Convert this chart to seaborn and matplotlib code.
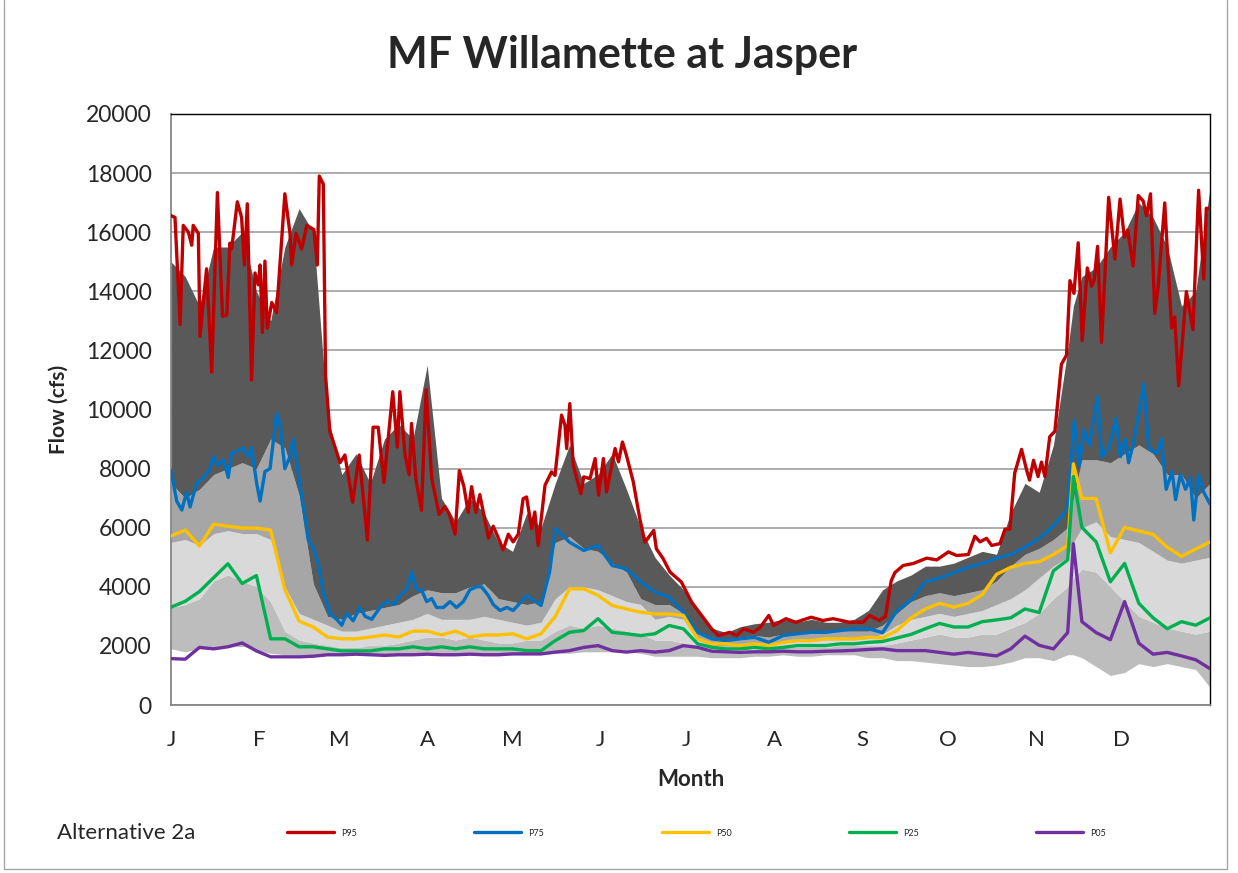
import numpy as np
import pandas as pd
import matplotlib
matplotlib.use('Agg')
import matplotlib.pyplot as plt
import seaborn as sns

sns.set_style('white')
plt.rcParams['font.family'] = ['Lato', 'DejaVu Sans']

# day of year of each sample (shared by most series)
days = list(range(0, 316, 5)) + [317] + list(range(320, 366, 5))

# Alternative 2a - P95 (more vertices, very spiky)
p95_day = [0, 1.4, 3.2, 4.3, 6.1, 7.3, 7.8, 9.6, 10.2, 12.5, 14.3, 16.3, 18.1, 19.6, 20.7,
           21.3, 23.3, 24.8, 25.8, 26.8, 28.3, 29.5, 30.7, 31.3, 32.1, 33, 33.8, 35.4, 37.1,
           40, 41.8, 42.4, 43.9, 45.9, 47.7, 50.2, 51.4, 52.1, 53.5, 54.3, 55.8, 57.6, 59.4,
           61.1, 63.8, 66.1, 69, 71, 72.8, 74.8, 77.9, 79.5, 80.4, 82.2, 83.7, 84.5, 86, 88,
           89.6, 91.6, 94.2, 96.2, 97.8, 99.8, 101.3, 102.9, 104.4, 105.6, 107.1, 108.5,
           111.5, 113.2, 115, 116.7, 118.5, 120.2, 122, 123.7, 124.9, 126.7, 127.8, 129,
           131.4, 133.7, 134.9, 137.2, 138.4, 139, 140.1, 141.3, 144, 145, 147.2, 149, 150.2,
           151.9, 153, 156, 157.2, 158.6, 160, 162.4, 164.7, 166.5, 169.6, 170.5, 172.9,
           175.3, 179.3, 182.9, 186.4, 189.9, 192.3, 196.3, 198.7, 201.2, 204.7, 207, 210,
           211.7, 216, 219.5, 224.9, 229, 232.6, 238.4, 243.1, 245.4, 248.9, 251, 253, 254.3,
           257.2, 260.8, 265.5, 269, 273.1, 276, 280.1, 282.4, 284.2, 286.5, 288.3, 291.2,
           293, 294.7, 296.4, 298.8, 300.5, 301.6, 303, 304.6, 305.8, 307, 308.7, 310.5,
           312.8, 314.6, 315.8, 317.2, 318.7, 320.1, 321.9, 323.4, 324.3, 325.5, 326.9,
           329.4, 331.6, 333.4, 334.9, 336.1, 338, 339.8, 341.5, 342.7, 344.1, 345.6, 346.8,
           349.1, 351.5, 352.6, 354, 356.7, 359, 361, 362.8, 363.7, 365]
p95_flow = [16560, 16500, 12880, 16230, 16000, 15560, 16230, 15960, 12480, 14760, 11270, 17340,
            13150, 13200, 15630, 15430, 17030, 16500, 14890, 16960, 11000, 14620, 14220, 14890,
            12610, 15020, 12750, 13620, 13280, 17300, 15960, 14890, 15960, 15430, 16230, 16090,
            14890, 17900, 17630, 11140, 9270, 8730, 8200, 8460, 6860, 8460, 5580, 9400, 9400,
            7530, 10600, 8730, 10600, 8460, 7790, 9530, 7660, 6590, 10670, 7660, 6450, 6720,
            6450, 5780, 7930, 7390, 6520, 7390, 6520, 7120, 5650, 6050, 5650, 5250, 5780, 5520,
            5780, 6980, 7040, 5970, 6530, 5400, 7440, 7890, 7770, 9810, 9470, 8680, 10200, 8110,
            7150, 7720, 7660, 8340, 7100, 8340, 7210, 8680, 8230, 8900, 8450, 7550, 6300, 5510,
            5910, 5290, 4950, 4500, 4160, 3480, 3030, 2580, 2350, 2460, 2350, 2580, 2460, 2630,
            3030, 2690, 2920, 2800, 2970, 2860, 2920, 2800, 2800, 3030, 2860, 3000, 4200, 4480,
            4720, 4790, 4970, 4910, 5180, 5060, 5090, 5710, 5520, 5640, 5400, 5460, 5950, 5950,
            7850, 8650, 7980, 7610, 8280, 7730, 8220, 7730, 9080, 9260, 11530, 11840, 14360,
            13930, 15640, 12330, 14790, 14170, 14360, 15520, 12270, 17180, 15090, 17120, 15830,
            16070, 14850, 17240, 17060, 16560, 17300, 13250, 14170, 16990, 12760, 13130, 10800,
            13990, 12700, 17420, 14420, 16810, 16800]

# Alternative 2a - P75 (own vertices, jagged in winter)
p75_day = [0, 2, 3.8, 5.5, 6.7, 9, 11.4, 13.7, 14.9, 16.6, 18.4, 20.1, 21.3, 23.3, 25.4, 27.2,
           28.3, 30.1, 31.3, 33, 34.8, 37.1, 38.3, 40, 41.8, 42.9, 44.7, 46.5, 48.2, 50, 51.7,
           53.5, 55.8, 58.2, 60, 61.7, 64, 66.4, 68.2, 70.5, 73.4, 75.7, 78.1, 80.4, 82.8,
           84.5, 86.3, 88, 89.8, 91.6, 93.3, 95.7, 98, 100.3, 102.7, 105, 107.4, 109.1, 111.5,
           113.2, 115.6, 118, 120.2, 125, 130, 133, 135, 140, 145, 150, 155, 160, 165, 170,
           175, 180, 185, 190, 195, 200, 205, 210, 215, 220, 225, 230, 235, 240, 245, 250,
           255, 260, 265, 270, 275, 280, 285, 290, 295, 300, 305, 310, 315, 317.3, 319,
           320.8, 322.6, 325.5, 327, 329.4, 332, 333.5, 335.3, 336.4, 338.2, 341.7, 343.5,
           346.4, 347.9, 349.6, 351.7, 352.9, 354.6, 356.4, 358.1, 359.3, 361, 362.8, 365]
p75_flow = [7930, 6900, 6600, 7200, 6700, 7500, 7700, 8000, 8400, 8100, 8300, 7700, 8500, 8600,
            8700, 8400, 8700, 7500, 6900, 7900, 8000, 9870, 9500, 8000, 8400, 9000, 7800, 6700,
            5600, 5300, 4800, 3800, 3100, 2900, 2700, 3100, 2850, 3300, 3000, 2900, 3300, 3500,
            3400, 3700, 3900, 4500, 3900, 3900, 3500, 3600, 3300, 3300, 3500, 3300, 3500, 3900,
            4000, 4000, 3700, 3400, 3200, 3300, 3200, 3700, 3370, 4500, 5970, 5510, 5230, 5400,
            4720, 4610, 4160, 3820, 3650, 3140, 2460, 2240, 2180, 2240, 2290, 2120, 2350, 2410,
            2460, 2460, 2520, 2580, 2580, 2450, 3190, 3560, 4170, 4290, 4480, 4660, 4790, 4970,
            5090, 5340, 5640, 6070, 6630, 9630, 8100, 9300, 8800, 10430, 8400, 8700, 9700,
            8400, 9000, 8200, 8900, 10860, 8700, 8500, 9000, 7300, 7900, 6950, 7800, 7300,
            7700, 6260, 7800, 7200, 6800]

# Alternative 2a - lower percentiles on the shared days
p50 = [5720, 5920, 5380, 6120, 6050, 5990, 5990, 5920, 3910, 2840,
       2640, 2300, 2240, 2240, 2300, 2370, 2300, 2500, 2500, 2370,
       2500, 2300, 2370, 2370, 2410, 2240, 2410, 3000, 3930, 3930,
       3710, 3370, 3250, 3140, 3080, 3080, 3030, 2240, 2070, 2070,
       2010, 2070, 2010, 2120, 2180, 2180, 2240, 2240, 2240, 2290,
       2270, 2520, 2950, 3250, 3440, 3310, 3440, 3740, 4420, 4660,
       4790, 4850, 5090, 5400, 8160,
       6990, 6990, 5150, 6010, 5890, 5770, 5340, 5030, 5280, 5520]
p25 = [3310, 3510, 3840, 4310, 4780, 4110, 4380, 2240, 2240, 1970,
       1970, 1900, 1830, 1830, 1830, 1900, 1900, 1970, 1900, 1970,
       1900, 1970, 1900, 1900, 1900, 1840, 1840, 2180, 2460, 2520,
       2920, 2460, 2410, 2350, 2410, 2690, 2580, 2070, 1950, 1900,
       1900, 1950, 1900, 1950, 2010, 2010, 2010, 2070, 2070, 2120,
       2150, 2270, 2390, 2580, 2760, 2640, 2640, 2820, 2880, 2950,
       3250, 3130, 4540, 4910, 7730,
       6010, 5520, 4170, 4790, 3440, 2950, 2580, 2820, 2700, 2950]
p05 = [1570, 1550, 1950, 1900, 1970, 2100, 1830, 1630, 1630, 1630,
       1650, 1700, 1700, 1720, 1700, 1680, 1700, 1700, 1720, 1700,
       1700, 1720, 1700, 1700, 1730, 1730, 1730, 1790, 1840, 1950,
       2010, 1840, 1790, 1840, 1790, 1840, 2010, 1950, 1820, 1800,
       1780, 1800, 1800, 1820, 1800, 1800, 1820, 1830, 1850, 1880,
       1900, 1840, 1840, 1840, 1780, 1720, 1780, 1720, 1660, 1900,
       2330, 2020, 1900, 2450, 5460,
       2820, 2450, 2210, 3500, 2090, 1720, 1780, 1660, 1530, 1230]

# base condition percentile bands (grey shading)
b95 = [15000, 14500, 13500, 15500, 15500, 16000, 14000, 13000, 15500, 16800,
       16000, 9800, 7800, 8500, 7500, 9000, 9500, 9000, 11500, 7000,
       6200, 7000, 6500, 5500, 5200, 6500, 6000, 7500, 8800, 7500,
       7800, 8500, 7300, 6000, 5000, 4400, 3900, 3200, 2600, 2450,
       2650, 2750, 2800, 2900, 2800, 2900, 2800, 2800, 2900, 3200,
       3900, 4200, 4400, 4700, 4700, 4800, 5000, 5200, 5100, 6500,
       7500, 7200, 8800, 12000, 13500,
       14500, 14800, 15500, 16000, 17000, 16500, 15500, 13500, 14000, 17500]
b75 = [7500, 7000, 7300, 7800, 8000, 8200, 8000, 9000, 8700, 7100,
       4100, 3000, 2900, 3100, 3200, 3300, 3400, 3700, 3900, 3800,
       3800, 4000, 4100, 3600, 3500, 3400, 3500, 5500, 5700, 5300,
       5200, 4800, 4500, 3600, 3400, 3400, 3100, 2500, 2300, 2200,
       2300, 2350, 2300, 2400, 2450, 2500, 2450, 2500, 2500, 2500,
       2700, 3100, 3500, 3700, 3800, 3700, 3800, 3900, 4200, 4700,
       5100, 5300, 5600, 6000, 7000,
       8300, 8300, 8200, 8500, 8800, 8500, 7800, 7800, 7000, 7500]
b50 = [5500, 5600, 5400, 5800, 5900, 5800, 5800, 5600, 4000, 3100,
       2900, 2700, 2500, 2500, 2600, 2700, 2800, 2900, 3100, 2900,
       2900, 2900, 3000, 2900, 2800, 2700, 2800, 3600, 4000, 4000,
       3900, 3700, 3500, 3400, 2900, 3000, 2900, 2200, 2000, 2000,
       2000, 2050, 2000, 2100, 2150, 2150, 2200, 2200, 2200, 2250,
       2400, 2700, 2900, 3000, 3100, 3000, 3100, 3200, 3400, 3600,
       3900, 4300, 4700, 5000, 5500,
       6000, 6200, 5700, 5600, 5500, 5200, 4900, 4800, 4900, 5000]
b25 = [3300, 3400, 3600, 4200, 4400, 4200, 4000, 3500, 2500, 2200,
       2100, 2000, 1950, 1950, 2000, 2000, 2100, 2200, 2300, 2300,
       2200, 2300, 2200, 2100, 2100, 2200, 2200, 2500, 2700, 2600,
       2700, 2600, 2500, 2400, 2200, 2200, 2100, 1900, 1900, 1850,
       1850, 1900, 1900, 1950, 1950, 1950, 1950, 2000, 2000, 2000,
       2000, 2100, 2200, 2300, 2400, 2300, 2300, 2400, 2400, 2600,
       2800, 3100, 3600, 4000, 4300,
       4600, 4500, 4000, 3500, 3000, 2800, 2600, 2500, 2400, 2500]
b05 = [1900, 1800, 1900, 1900, 1950, 2000, 1850, 1750, 1700, 1700,
       1700, 1700, 1700, 1700, 1700, 1700, 1700, 1700, 1700, 1700,
       1700, 1700, 1700, 1700, 1700, 1700, 1700, 1750, 1750, 1800,
       1800, 1800, 1800, 1750, 1650, 1650, 1650, 1650, 1600, 1600,
       1600, 1650, 1650, 1700, 1650, 1650, 1700, 1700, 1700, 1600,
       1600, 1500, 1500, 1450, 1400, 1350, 1300, 1300, 1350, 1450,
       1600, 1600, 1500, 1700, 1700,
       1600, 1300, 1000, 1100, 1400, 1300, 1400, 1300, 1200, 600]

month_start = [0, 31, 59, 90, 120, 151, 181, 212, 243, 273, 304, 334]
month_labels = ['J', 'F', 'M', 'A', 'M', 'J', 'J', 'A', 'S', 'O', 'N', 'D']
series_names = ['P95', 'P75', 'P50', 'P25', 'P05']
series_colors = ['#c00000', '#0070c0', '#ffc000', '#00b050', '#7030a0']

# long table for seaborn
frames = [pd.DataFrame({'day': p95_day, 'flow': p95_flow, 'series': 'P95'}),
          pd.DataFrame({'day': p75_day, 'flow': p75_flow, 'series': 'P75'})]
for name, vals in zip(series_names[2:], [p50, p25, p05]):
    frames.append(pd.DataFrame({'day': days, 'flow': vals, 'series': name}))
df = pd.concat(frames, ignore_index=True)

fig = plt.figure(figsize=(12.38, 8.73), dpi=100)
ax = fig.add_axes([171 / 1238, 1 - 705 / 873, 1039 / 1238, 591 / 873])

# grey bands
ax.fill_between(days, b05, b25, color='#bdbdbd', lw=0, zorder=1)
ax.fill_between(days, b25, b50, color='#d9d9d9', lw=0, zorder=1)
ax.fill_between(days, b50, b75, color='#a6a6a6', lw=0, zorder=1)
ax.fill_between(days, b75, b95, color='#595959', lw=0, zorder=1)

sns.lineplot(data=df, x='day', y='flow', hue='series', hue_order=series_names,
             palette=series_colors, linewidth=2.4, legend=False, ax=ax, zorder=3)

ax.set_xlim(0, 365)
ax.set_ylim(0, 20000)
ax.set_yticks(range(0, 20001, 2000))
ax.set_xticks(month_start)
ax.set_xticklabels(month_labels)
ax.set_axisbelow(True)
ax.grid(axis='y', color='#a6a6a6', linewidth=1.3)
ax.grid(axis='x', visible=False)
for side in ['left', 'bottom']:
    ax.spines[side].set_color('#868686')
    ax.spines[side].set_linewidth(1.3)
for side in ['top', 'right']:
    ax.spines[side].set_color('black')
    ax.spines[side].set_linewidth(1.0)
ax.tick_params(axis='y', direction='out', length=6, width=1.2, color='#868686',
               labelsize=16.5, pad=8)
ax.tick_params(axis='x', direction='out', length=6, width=1.2, color='#868686',
               labelsize=16, pad=12)
ax.set_xlabel('Month', fontsize=16, fontweight='bold', labelpad=14)
ax.set_ylabel('Flow (cfs)', fontsize=15, fontweight='bold', labelpad=12)

fig.text(622 / 1238, 1 - 55 / 873, 'MF Willamette at Jasper', ha='center', va='center',
         fontsize=31, fontweight='bold')

# legend
handles = ax.get_lines()[:5]
fig.text(57 / 1238, 1 - 833 / 873, 'Alternative 2a', ha='left', va='center', fontsize=16)
fig.legend(handles, series_names, loc='center left',
           bbox_to_anchor=(287 / 1238, 1 - 833 / 873), ncol=5, frameon=False,
           fontsize=6.5, handlelength=5.2, handletextpad=0.8, columnspacing=13.0,
           borderpad=0, borderaxespad=0)

# chart border
fig.add_artist(plt.Line2D([4 / 1238, 4 / 1238], [0.005, 1], color='#a6a6a6', lw=1))
fig.add_artist(plt.Line2D([1227 / 1238, 1227 / 1238], [0.005, 1], color='#a6a6a6', lw=1))
fig.add_artist(plt.Line2D([4 / 1238, 1227 / 1238], [0.005, 0.005], color='#a6a6a6', lw=1))

fig.savefig('out.png', dpi=100)
